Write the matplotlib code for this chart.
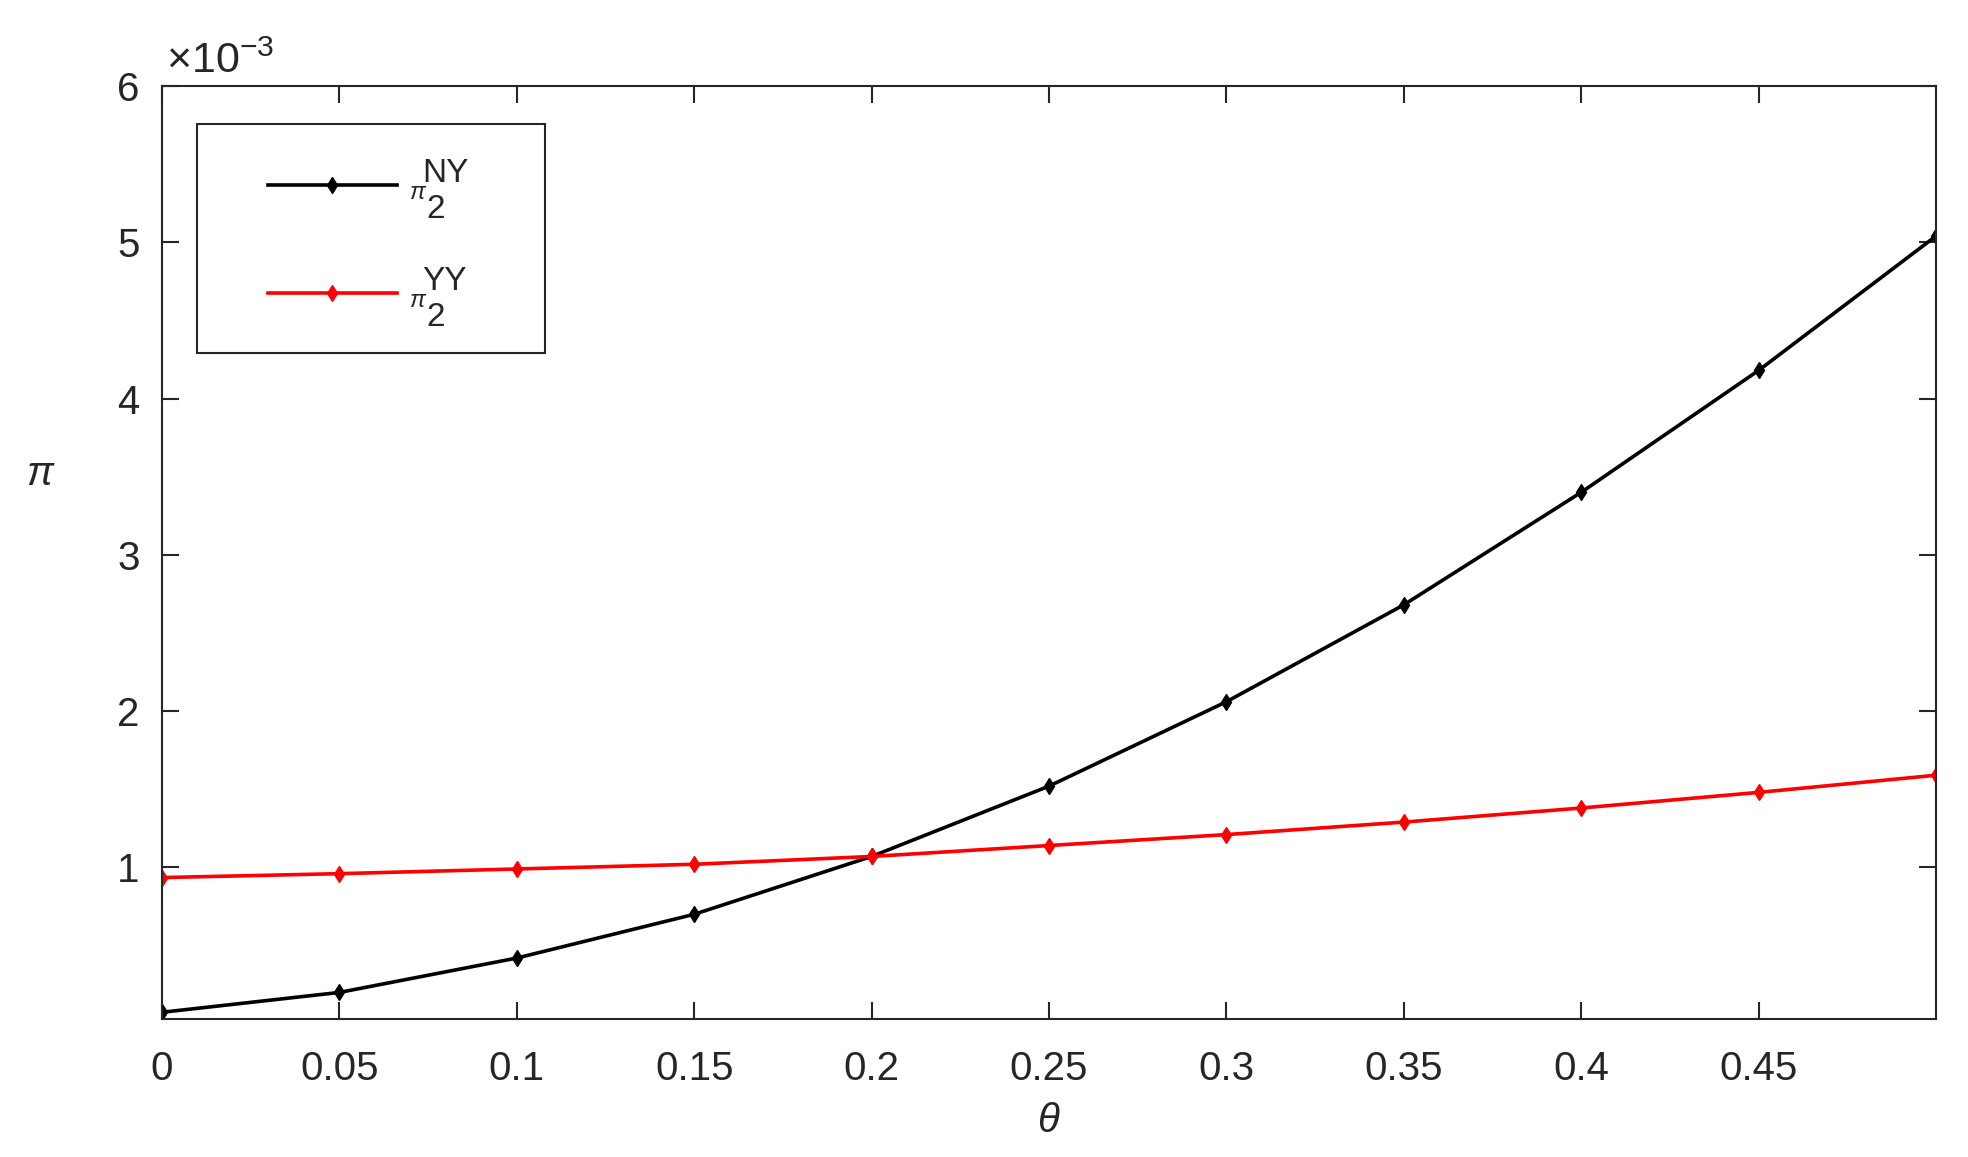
import numpy as np
import matplotlib
matplotlib.use('Agg')
import matplotlib.pyplot as plt
from matplotlib.patches import Rectangle

plt.rcParams['font.family'] = ['Liberation Sans', 'DejaVu Sans']
plt.rcParams['mathtext.fontset'] = 'custom'
plt.rcParams['mathtext.rm'] = 'Liberation Sans'
plt.rcParams['mathtext.it'] = 'Liberation Sans:italic'

# data (pi values in units of 1e-3)
theta = [0, 0.05, 0.1, 0.15, 0.2, 0.25, 0.3, 0.35, 0.4, 0.45, 0.5]
pi_NY = [0.073, 0.20, 0.42, 0.70, 1.07, 1.52, 2.06, 2.68, 3.40, 4.18, 5.04]
pi_YY = [0.935, 0.96, 0.99, 1.02, 1.07, 1.14, 1.21, 1.29, 1.38, 1.48, 1.59]
xticks = [0, 0.05, 0.1, 0.15, 0.2, 0.25, 0.3, 0.35, 0.4, 0.45]
xtick_labels = ['0', '0.05', '0.1', '0.15', '0.2', '0.25', '0.3', '0.35', '0.4', '0.45']
yticks = [1, 2, 3, 4, 5, 6]
ytick_labels = ['1', '2', '3', '4', '5', '6']
leg_sub = ['2', '2']
leg_sup = ['NY', 'YY']

grey = '#262626'
fs = 29
W, H = 1968, 1157
L, R, T, B = 162, 1936, 86, 1019

fig = plt.figure(figsize=(W / 100, H / 100), dpi=100)
ax = fig.add_axes([L / W, 1 - B / H, (R - L) / W, (B - T) / H])

# pixel -> axes fraction (for legend/annotations)
def px(x, y):
    return (x - L) / (R - L), (B - y) / (B - T)

styles = [dict(color='black', mfc='black', mec='black'),
          dict(color='red', mfc='red', mec='red')]
series = [pi_NY, pi_YY]
for vals, st in zip(series, styles):
    ax.plot(theta, np.array(vals) * 1e-3, lw=2.6, marker='d', ms=8, **st)

ax.set_xlim(0, 0.5)
ax.set_ylim(0.03e-3, 6e-3)
ax.set_xticks(xticks)
ax.set_xticklabels(xtick_labels)
ax.set_yticks(np.array(yticks) * 1e-3)
ax.set_yticklabels(ytick_labels)

for s in ax.spines.values():
    s.set_color(grey)
    s.set_linewidth(1.5)
ax.tick_params(axis='both', direction='in', length=12, width=1.5, color=grey,
               labelcolor=grey, labelsize=fs, top=True, right=True)
ax.tick_params(axis='x', pad=22)
ax.tick_params(axis='y', pad=16)

ax.set_xlabel(r'$\theta$', fontsize=fs, color=grey, va='center')
ax.xaxis.set_label_coords(0.5, -0.109)
ax.set_ylabel(r'$\pi$', fontsize=fs, color=grey, rotation=0, va='center', ha='center')
ax.yaxis.set_label_coords(*px(41, 474))

ax.text(*px(166, 73), r'$\times\mathrm{10}^{\mathrm{-3}}$', transform=ax.transAxes,
        fontsize=31, color=grey, ha='left', va='baseline')

# legend box (MATLAB style)
x0, y0 = px(197, 353)
x1, y1 = px(545, 124)
ax.add_patch(Rectangle((x0, y0), x1 - x0, y1 - y0, transform=ax.transAxes,
                       facecolor='white', edgecolor=grey, lw=1.5, zorder=5,
                       clip_on=False))
rows = [185, 293]
for i, st in enumerate(styles):
    yr = rows[i]
    hx = [px(268, yr)[0], px(332, yr)[0], px(397, yr)[0]]
    hy = [px(0, yr)[1]] * 3
    ax.plot(hx, hy, lw=2.6, marker='d', ms=8, markevery=[1], transform=ax.transAxes,
            clip_on=False, zorder=6, **st)
    ax.text(*px(409, yr + 14), r'$\pi$', transform=ax.transAxes, fontsize=17,
            color=grey, ha='left', va='baseline', zorder=7)
    ax.text(*px(426, yr + 33), leg_sub[i], transform=ax.transAxes, fontsize=24,
            color=grey, ha='left', va='baseline', zorder=7)
    ax.text(*px(422, yr - 3), leg_sup[i], transform=ax.transAxes, fontsize=24,
            color=grey, ha='left', va='baseline', zorder=7)

fig.savefig('out.png', dpi=100)
